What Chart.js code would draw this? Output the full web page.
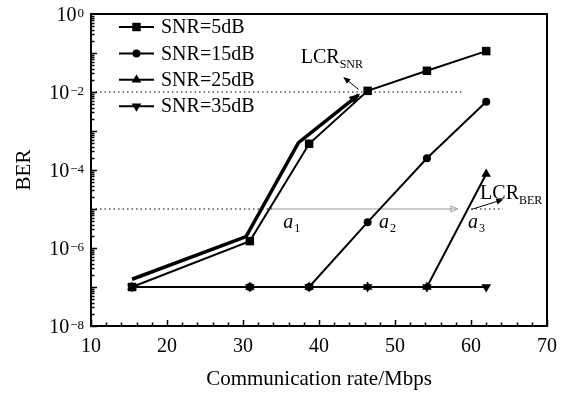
<!DOCTYPE html>
<html>
<head>
<meta charset="utf-8">
<script src="https://cdn.jsdelivr.net/npm/chart.js@4.4.0/dist/chart.umd.min.js"></script>
<style>
html, body { margin: 0; padding: 0; background: #fff; }
#wrap { width: 568px; height: 394px; }
</style>
</head>
<body>
<div id="wrap"><canvas id="chart" width="568" height="394"></canvas></div>
<script>
// communication rate (Mbps) of the measured points
var rates = [15.4, 30.9, 38.7, 46.4, 54.2, 62];
// BER per SNR
var ber5  = [1e-7, 1.5e-6, 4.7e-4, 1.07e-2, 3.5e-2, 0.112];
var ber15 = [1e-7, 1e-7, 1e-7, 4.6e-6, 2e-4, 5.6e-3];
var ber25 = [1e-7, 1e-7, 1e-7, 1e-7, 1e-7, 7.9e-5];
var ber35 = [1e-7, 1e-7, 1e-7, 1e-7, 1e-7, 1e-7];
var seriesNames = ['SNR=5dB', 'SNR=15dB', 'SNR=25dB', 'SNR=35dB'];
var yTickExp = [0, -2, -4, -6, -8];

// annotation guides (data units)
var snrPathX = [15.4, 30.4, 37.3, 45.2];
var snrPathY = [1.58e-7, 1.95e-6, 5.0e-4, 8.4e-3];
var snrLimit = 1e-2;
var snrLimitX = [10, 58.8];
var berLimit = 1e-5;
var berDotX = [10, 34];
var berGreyX = [34, 58];
var berDot2X = [60, 64.2];
var lcrSnrArrowX = [45.2, 43.4];
var lcrSnrArrowY = [1.17e-2, 2.24e-2];
var lcrBerArrowX = [60.1, 64.0];
var lcrBerArrowY = [9.8e-6, 1.7e-5];
var labelTexts = [
  { main: 'LCR', sub: 'SNR', x: 37.6, y: 0.055, italic: false },
  { main: 'LCR', sub: 'BER', x: 61.2, y: 1.78e-5, italic: false },
  { main: 'a', sub: '1', x: 35.3, y: 3.2e-6, italic: true },
  { main: 'a', sub: '2', x: 47.9, y: 3.2e-6, italic: true },
  { main: 'a', sub: '3', x: 59.6, y: 3.2e-6, italic: true }
];

var serif = '"Liberation Serif", "Times New Roman", serif';
Chart.defaults.font.family = serif;
Chart.defaults.color = '#000';

function pts(xs, ys) {
  return xs.map(function (x, i) { return { x: x, y: ys[i] }; });
}
function flat(xs, y) {
  return xs.map(function (x) { return { x: x, y: y }; });
}

function series(label, data, style, rot, r) {
  return {
    label: label, data: pts(rates, data),
    borderColor: '#000', backgroundColor: '#000', borderWidth: 2,
    pointStyle: style, pointRotation: rot, pointRadius: r,
    pointBorderWidth: 0, tension: 0
  };
}
function guide(data, color, width, dash, arrow) {
  return {
    data: data, borderColor: color, backgroundColor: color, borderWidth: width,
    borderDash: dash, pointRadius: 0, tension: 0, arrow: arrow
  };
}

var datasets = [
  series(seriesNames[0], ber5, 'rect', 0, 6),
  series(seriesNames[1], ber15, 'circle', 0, 4),
  series(seriesNames[2], ber25, 'triangle', 0, 5.6),
  series(seriesNames[3], ber35, 'triangle', 180, 5.6),
  guide(pts(snrPathX, snrPathY), '#000', 3.5, [], 'fill'),
  guide(flat(snrLimitX, snrLimit), '#000', 1.2, [1.5, 3], null),
  guide(flat(berDotX, berLimit), '#000', 1.2, [1.5, 3], null),
  guide(flat(berGreyX, berLimit), '#999', 1, [], 'open'),
  guide(flat(berDot2X, berLimit), '#000', 1.2, [1.5, 3], null),
  guide(pts(lcrSnrArrowX, lcrSnrArrowY), '#000', 1, [], 'small'),
  guide(pts(lcrBerArrowX, lcrBerArrowY), '#000', 1, [], 'small')
];

function drawMarker(ctx, style, rot, r, x, y) {
  ctx.beginPath();
  if (style === 'rect') {
    var s = r * Math.SQRT1_2;
    ctx.rect(x - s, y - s, 2 * s, 2 * s);
  } else if (style === 'circle') {
    ctx.arc(x, y, r, 0, Math.PI * 2);
  } else {
    var a = rot * Math.PI / 180;
    for (var k = 0; k < 3; k++) {
      var t = a + k * 2 * Math.PI / 3;
      var px = x + Math.sin(t) * r, py = y - Math.cos(t) * r;
      if (k === 0) ctx.moveTo(px, py); else ctx.lineTo(px, py);
    }
    ctx.closePath();
  }
  ctx.fill();
}

var decor = {
  id: 'decor',
  afterDatasetsDraw: function (chart) {
    var ctx = chart.ctx;
    // arrow heads
    chart.data.datasets.forEach(function (ds, i) {
      if (!ds.arrow) return;
      var pe = chart.getDatasetMeta(i).data;
      var p1 = pe[pe.length - 2], p2 = pe[pe.length - 1];
      var ang = Math.atan2(p2.y - p1.y, p2.x - p1.x);
      var len = ds.arrow === 'fill' ? 11 : 7, w = ds.arrow === 'fill' ? 4.5 : 3;
      ctx.save();
      ctx.translate(p2.x, p2.y);
      ctx.rotate(ang);
      ctx.beginPath();
      ctx.moveTo(2, 0);
      ctx.lineTo(2 - len, -w);
      ctx.lineTo(2 - len, w);
      ctx.closePath();
      if (ds.arrow === 'open') {
        ctx.strokeStyle = ds.borderColor; ctx.lineWidth = 1; ctx.stroke();
      } else {
        ctx.fillStyle = ds.borderColor; ctx.fill();
      }
      ctx.restore();
    });
  },
  afterDraw: function (chart) {
    var ctx = chart.ctx, a = chart.chartArea;
    var xs = chart.scales.x, ys = chart.scales.y;
    ctx.save();
    ctx.strokeStyle = '#000';
    ctx.lineWidth = 2;
    ctx.strokeRect(a.left, a.top, a.right - a.left, a.bottom - a.top);
    // inward ticks
    ctx.lineWidth = 1.5;
    ctx.beginPath();
    for (var v = 10; v <= 70; v += 2) {
      var px = Math.round(xs.getPixelForValue(v)) + 0.5;
      var l = (v % 10 === 0) ? 6 : 3.5;
      ctx.moveTo(px, a.bottom); ctx.lineTo(px, a.bottom - l);
    }
    for (var e = -8; e < 0; e++) {
      for (var m = 1; m <= 9; m++) {
        var py = Math.round(ys.getPixelForValue(m * Math.pow(10, e))) + 0.5;
        var l2 = m === 1 ? 6 : 3.5;
        ctx.moveTo(a.left, py); ctx.lineTo(a.left + l2, py);
      }
    }
    ctx.stroke();
    // y tick labels 10^n
    ctx.fillStyle = '#000';
    ctx.textBaseline = 'alphabetic';
    yTickExp.forEach(function (n) {
      var y = ys.getPixelForValue(Math.pow(10, n));
      var sup = n === 0 ? '0' : '\u2212' + Math.abs(n);
      ctx.font = '13px ' + serif;
      var sw = ctx.measureText(sup).width;
      var right = a.left - 7;
      ctx.textAlign = 'right';
      ctx.fillText(sup, right, y + 2.5);
      ctx.font = '20px ' + serif;
      ctx.fillText('10', right - sw - 1, y + 6.8);
    });
    // legend
    ctx.textAlign = 'left';
    for (var i = 0; i < 4; i++) {
      var ds = chart.data.datasets[i];
      var ry = a.top + 13 + i * 26.4;
      var lx = a.left + 28;
      ctx.lineWidth = 2;
      ctx.beginPath(); ctx.moveTo(lx, ry); ctx.lineTo(lx + 35, ry); ctx.stroke();
      drawMarker(ctx, ds.pointStyle, ds.pointRotation, ds.pointRadius, lx + 17.5, ry);
      ctx.font = '20px ' + serif;
      ctx.textBaseline = 'middle';
      ctx.fillText(ds.label, lx + 42, ry + 1);
    }
    // annotation texts
    ctx.textBaseline = 'alphabetic';
    labelTexts.forEach(function (t) {
      var x = xs.getPixelForValue(t.x), y = ys.getPixelForValue(t.y);
      ctx.font = (t.italic ? 'italic ' : '') + '20px ' + serif;
      ctx.fillText(t.main, x, y);
      var w = ctx.measureText(t.main).width;
      ctx.font = '12px ' + serif;
      ctx.fillText(t.sub, x + w + (t.italic ? 1 : 0), y + (t.italic ? 4 : 5));
    });
    ctx.restore();
  }
};

new Chart(document.getElementById('chart').getContext('2d'), {
  type: 'line',
  data: { datasets: datasets },
  options: {
    responsive: false,
    animation: false,
    layout: { padding: { left: 0, right: 21, top: 14, bottom: 0 } },
    plugins: { legend: { display: false }, tooltip: { enabled: false } },
    scales: {
      x: {
        type: 'linear', min: 10, max: 70,
        grid: { display: false, drawTicks: false },
        border: { display: false },
        ticks: { stepSize: 10, font: { size: 20 }, padding: 9, color: '#000', maxRotation: 0 },
        title: { display: true, text: 'Communication rate/Mbps', font: { size: 21 }, padding: { top: 0, bottom: 2 } },
        afterFit: function (s) { s.height = 68; }
      },
      y: {
        type: 'logarithmic', min: 1e-8, max: 1,
        grid: { display: false, drawTicks: false },
        border: { display: false },
        ticks: { display: false },
        title: { display: true, text: 'BER', font: { size: 21 }, padding: { top: 12, bottom: 0 } },
        afterFit: function (s) { s.width = 91; }
      }
    }
  },
  plugins: [decor]
});
</script>
</body>
</html>
